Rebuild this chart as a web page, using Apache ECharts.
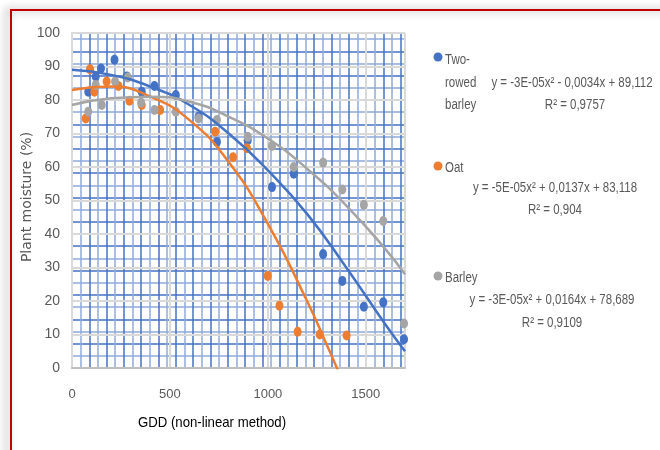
<!DOCTYPE html>
<html>
<head>
<meta charset="utf-8">
<script src="https://cdn.jsdelivr.net/npm/echarts@6/dist/echarts.min.js"></script>
<style>
  html, body { margin: 0; padding: 0; background: #fff; }
  #chart { width: 660px; height: 450px; }
</style>
</head>
<body>
<div id="chart"></div>
<script>
// measured points [GDD, moisture]
var rowedPts = [[83,82.5],[121,87],[148,89.4],[217,92],[280,87],[356,82.5],[421,84.2],[530,81.5],[646,75],[740,67.5],[897,68],[1021,54],[1132,58],[1282,34],[1380,26],[1490,18.3],[1589,19.6],[1695,8.6]]
var oatPts = [[70,74.5],[92,89.2],[114,82.5],[177,85.5],[237,84.2],[293,79.8],[356,78.5],[450,77],[731,70.5],[822,62.9],[893,65.6],[999,27.5],[1059,18.6],[1152,10.8],[1265,10],[1402,9.7]]
var barleyPts = [[83,76.5],[121,84.5],[152,78.5],[220,85.5],[285,86.7],[353,79.2],[421,77],[530,76.5],[646,74.5],[740,74],[897,69],[1021,66.3],[1132,60],[1282,61.3],[1380,53.3],[1490,48.7],[1589,43.9],[1695,13.3]]

// trend lines
var trendX = [0,200,400,600,800,1000,1200,1400,1600,1700]
var rowedTrend = [89,87.5,84,78.5,70,59,46,30,13,5]
var barleyTrend = [78.5,80.5,81,79.5,75,68.5,59.5,48.5,35.5,28]
var oatTrendX = [0,200,400,600,800,1000,1200,1300,1360]
var oatTrend = [83,84,81,74,61.5,43,20,7,-1]

var xTicks = [0,500,1000,1500]
var names = ['Two-\nrowed\nbarley', 'Oat', 'Barley']
var equations = ['y = -3E-05x² - 0,0034x + 89,112', 'y = -5E-05x² + 0,0137x + 83,118', 'y = -3E-05x² + 0,0164x + 78,689']
var rSquared = ['R² = 0,9757', 'R² = 0,904', 'R² = 0,9109']

var colors = ['#4472c4', '#ed7d31', '#a5a5a5']
var sans = "'Liberation Sans', Arial, sans-serif"
var txt = '#595959'
var squeeze = 0.82  // narrow look of the original font

function pairs(xs, ys) {
    return xs.map(function (x, i) { return [x, ys[i]] })
}

var dom = document.getElementById('chart')
var myChart = echarts.init(dom)

var series = []
var ptsList = [rowedPts, oatPts, barleyPts]
for (var i = 0; i < 3; i++) {
    series.push({
        type: 'scatter',
        data: ptsList[i],
        symbolSize: [8, 10],
        itemStyle: { color: colors[i], opacity: 1 },
        z: 3
    })
}
var trends = [pairs(trendX, rowedTrend), pairs(oatTrendX, oatTrend), pairs(trendX, barleyTrend)]
for (var j = 0; j < 3; j++) {
    series.push({
        type: 'line',
        data: trends[j],
        smooth: true,
        showSymbol: false,
        clip: true,
        lineStyle: { color: colors[j], width: 2.5 },
        z: 4
    })
}

// frame, axis titles, legend + equations
var graphics = [{
    type: 'rect',
    shape: { x: 11, y: 10, width: 720, height: 520 },
    style: { fill: 'none', stroke: '#c00000', lineWidth: 2, shadowBlur: 8, shadowColor: 'rgba(0,0,0,0.45)', shadowOffsetX: -4 },
    silent: true
}, {
    type: 'text',
    x: 212, y: 423, scaleX: 0.88,
    style: { text: 'GDD (non-linear method)', font: '15px ' + sans, fill: '#000', align: 'center', verticalAlign: 'middle' }
}, {
    type: 'text',
    x: 27, y: 197, rotation: Math.PI / 2,
    style: { text: 'Plant moisture (%)', font: '14px DejaVu Sans', fill: txt, align: 'center', verticalAlign: 'middle' }
}]
var markerY = [57, 166, 276]
var nameY = [58, 166, 276]
var eqPos = [[572, 83], [555, 188], [552, 300]]
var rPos = [[575, 105], [555, 210], [552, 323]]
for (var k = 0; k < 3; k++) {
    graphics.push({ type: 'circle', shape: { cx: 438, cy: markerY[k], r: 4.5 }, style: { fill: colors[k] } })
    graphics.push({
        type: 'text', x: 445, y: nameY[k] - 9, scaleX: squeeze,
        style: { text: names[k], font: '14px ' + sans, fill: txt, lineHeight: 22.5, verticalAlign: 'top' }
    })
    graphics.push({
        type: 'text', x: eqPos[k][0], y: eqPos[k][1], scaleX: squeeze,
        style: { text: equations[k], font: '14px ' + sans, fill: txt, align: 'center', verticalAlign: 'middle' }
    })
    graphics.push({
        type: 'text', x: rPos[k][0], y: rPos[k][1], scaleX: squeeze,
        style: { text: rSquared[k], font: '14px ' + sans, fill: txt, align: 'center', verticalAlign: 'middle' }
    })
}

option = {
    animation: false,
    backgroundColor: '#fff',
    grid: { left: 72, top: 33, width: 333, height: 335 },
    xAxis: [{
        type: 'value',
        min: 0, max: 1700, interval: 500,
        z: 1,
        axisLine: { lineStyle: { color: '#bfbfbf', width: 2 } },
        axisTick: { show: false },
        axisLabel: {
            margin: 20, color: txt, fontSize: 13, fontFamily: sans,
            formatter: function (v) { return xTicks.indexOf(v) >= 0 ? String(v) : '' }
        },
        splitLine: { show: true, lineStyle: { color: '#d9d9d9', width: 2 } }
    }, {
        type: 'value', position: 'top',
        min: 0, max: 38.5, interval: 1,
        z: 0,
        axisLine: { show: false }, axisTick: { show: false }, axisLabel: { show: false },
        splitLine: { show: true, lineStyle: { color: ['#4472c4', '#8faadc'], width: 1.5 } }
    }],
    yAxis: [{
        type: 'value',
        min: 0, max: 100, interval: 10,
        z: 1,
        axisLine: { show: true, lineStyle: { color: '#d9d9d9', width: 2 } },
        axisTick: { show: false },
        axisLabel: { margin: 12, color: txt, fontSize: 14, fontFamily: sans },
        splitLine: { show: true, lineStyle: { color: '#d9d9d9', width: 2 } }
    }, {
        type: 'value', position: 'right',
        min: 0, max: 27.5, interval: 1,
        z: 0,
        axisLine: { show: false }, axisTick: { show: false }, axisLabel: { show: false },
        splitLine: { show: true, lineStyle: { color: ['#4472c4', '#8faadc'], width: 1.5 } }
    }],
    series: series,
    graphic: graphics
}
myChart.setOption(option)
</script>
</body>
</html>
